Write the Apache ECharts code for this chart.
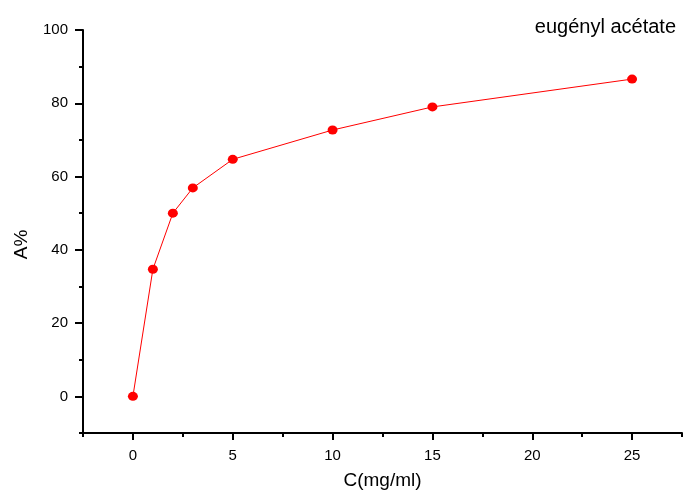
<!DOCTYPE html>
<html><head><meta charset="utf-8">
<script src="https://cdn.jsdelivr.net/npm/echarts@6/dist/echarts.min.js"></script>
<style>html,body{margin:0;padding:0;background:#fff}#c{width:683px;height:495px}</style>
</head><body><div id="c"></div>
<script>
const concentrations = [0, 1, 2, 3, 5, 10, 15, 25];
const activity = [0, 34.7, 50.0, 56.9, 64.7, 72.7, 79.0, 86.6];
const xMajorTicks = [0, 5, 10, 15, 20, 25];
const xMinorTicks = [-2.5, 2.5, 7.5, 12.5, 17.5, 22.5, 27.5];
const yMajorTicks = [0, 20, 40, 60, 80, 100];
const yMinorTicks = [-10, 10, 30, 50, 70, 90];
const titleText = 'eugényl acétate';
const xName = 'C(mg/ml)';
const yName = 'A%';

const font = 'Liberation Sans, Arial, sans-serif';
const chart = echarts.init(document.getElementById('c'));
const tickStyle = { color: '#000', width: 2 };
chart.setOption({
  animation: false,
  backgroundColor: '#fff',
  title: { text: titleText, right: 2, top: 12, textStyle: { fontFamily: font, fontSize: 20, fontWeight: 'normal', color: '#000' } },
  grid: { left: 83, right: 1, top: 30, bottom: 60 },
  xAxis: [{
    type: 'value', min: -2.5, max: 27.5,
    name: xName, nameLocation: 'middle', nameGap: 38,
    nameTextStyle: { fontFamily: font, fontSize: 19, color: '#000' },
    axisLine: { show: true, onZero: false, lineStyle: { color: '#000', width: 2 } },
    axisTick: { show: true, customValues: xMajorTicks, length: 7, lineStyle: tickStyle },
    axisLabel: { customValues: xMajorTicks, margin: 15, fontFamily: font, fontSize: 15, color: '#000' },
    splitLine: { show: false }
  }, {
    type: 'value', min: -2.5, max: 27.5, position: 'bottom',
    axisLine: { show: false, onZero: false },
    axisTick: { show: true, customValues: xMinorTicks, length: 4, lineStyle: tickStyle },
    axisLabel: { show: false },
    splitLine: { show: false }
  }],
  yAxis: [{
    type: 'value', min: -10, max: 100, position: 'left',
    name: yName, nameLocation: 'middle', nameGap: 52,
    nameTextStyle: { fontFamily: font, fontSize: 19, color: '#000', padding: [0, 26, 0, 0] },
    axisLine: { show: true, onZero: false, lineStyle: { color: '#000', width: 2 } },
    axisTick: { show: true, length: 8, customValues: yMajorTicks, lineStyle: tickStyle },
    axisLabel: { margin: 15, fontFamily: font, fontSize: 15, color: '#000', customValues: yMajorTicks },
    splitLine: { show: false }
  }, {
    type: 'value', min: -10, max: 100, position: 'left', offset: 0,
    axisLine: { show: false, onZero: false },
    axisTick: { show: true, length: 4, customValues: yMinorTicks, lineStyle: tickStyle },
    axisLabel: { show: false },
    splitLine: { show: false }
  }],
  series: [{
    type: 'line', xAxisIndex: 0, yAxisIndex: 0,
    data: concentrations.map((c, i) => [c, activity[i]]),
    symbol: 'circle', symbolSize: [10, 9],
    lineStyle: { color: '#ff0000', width: 1 },
    itemStyle: { color: '#ff0000' }
  }]
});
</script></body></html>
